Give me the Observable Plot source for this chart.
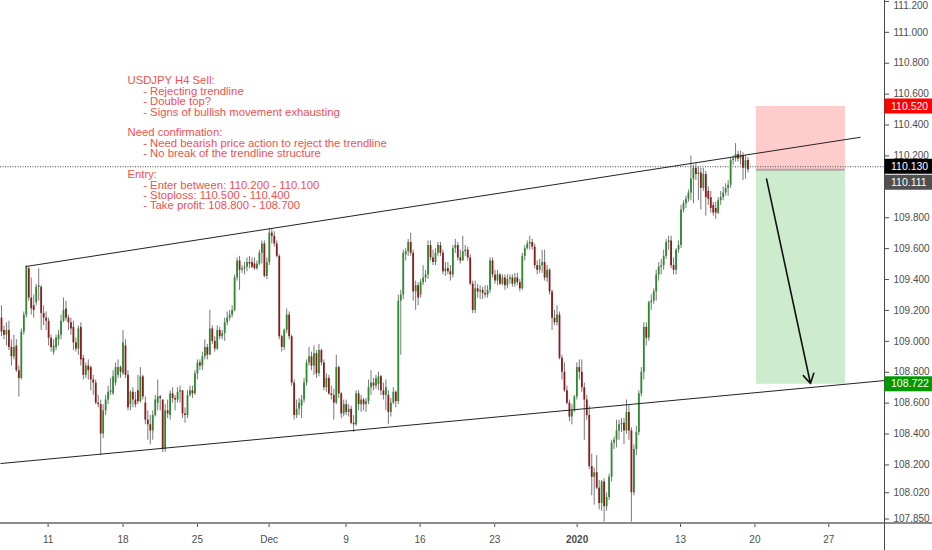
<!DOCTYPE html>
<html><head><meta charset="utf-8">
<script src="https://cdn.jsdelivr.net/npm/d3@7"></script>
<script src="https://cdn.jsdelivr.net/npm/@observablehq/plot@0.6"></script>
<style>
html,body{margin:0;padding:0;background:#fff;}
#chart{width:932px;height:550px;overflow:hidden;}
</style></head><body><div id="chart"></div>
<script>
// USDJPY H4 candles (index = bar number), prices
const open = [
109.15,109.07,109.04,109.07,108.96,108.90,108.97,108.81,108.76,109.06,
109.17,109.47,109.28,109.23,109.25,109.35,109.35,109.18,109.15,109.13,
109.02,108.93,108.96,109.01,109.04,109.13,109.21,109.15,109.12,109.09,
108.99,108.95,109.09,108.89,108.78,108.84,108.83,108.75,108.73,108.60,
108.59,108.40,108.55,108.62,108.67,108.66,108.73,108.78,108.83,108.79,
108.97,108.78,108.59,108.67,108.62,108.68,108.61,108.77,108.60,108.49,
108.46,108.42,108.52,108.60,108.64,108.62,108.30,108.55,108.52,108.66,
108.63,108.62,108.67,108.68,108.53,108.52,108.65,108.68,108.66,108.79,
108.86,108.84,108.90,108.96,108.91,109.08,109.00,108.95,109.07,109.03,
109.05,109.12,109.15,109.17,109.20,109.41,109.52,109.46,109.47,109.48,
109.51,109.51,109.50,109.47,109.50,109.57,109.63,109.42,109.51,109.70,
109.68,109.63,109.55,109.03,108.96,109.07,109.17,109.03,108.73,108.52,
108.56,108.58,108.62,108.73,108.86,108.90,108.84,108.92,108.79,108.94,
108.86,108.70,108.76,108.66,108.65,108.60,108.83,108.66,108.53,108.59,
108.54,108.56,108.47,108.46,108.66,108.59,108.62,108.59,108.61,108.70,
108.73,108.71,108.72,108.77,108.68,108.65,108.65,108.54,108.60,108.67,
108.61,109.26,109.30,109.56,109.58,109.64,109.57,109.32,109.36,109.30,
109.38,109.41,109.43,109.62,109.54,109.51,109.57,109.62,109.57,109.45,
109.47,109.45,109.43,109.60,109.62,109.54,109.52,109.58,109.59,109.54,
109.37,109.20,109.34,109.32,109.33,109.31,109.30,109.33,109.52,109.43,
109.39,109.43,109.37,109.41,109.36,109.40,109.41,109.37,109.41,109.38,
109.34,109.55,109.60,109.63,109.64,109.61,109.49,109.46,109.49,109.51,
109.41,109.46,109.32,109.15,109.12,109.17,108.89,108.80,108.68,108.60,
108.51,108.55,108.64,108.83,108.80,108.70,108.62,108.52,108.19,108.12,
108.15,108.05,107.95,108.09,107.93,107.99,108.12,108.34,108.36,108.42,
108.46,108.47,108.42,108.54,108.42,108.02,108.30,108.41,108.66,108.80,
109.09,109.02,109.25,109.26,109.32,109.43,109.48,109.49,109.55,109.64,
109.65,109.49,109.46,109.59,109.62,109.85,109.89,109.92,109.96,110.05,
110.12,110.08,110.09,109.99,110.08,109.97,109.93,109.88,109.86,109.83,
109.91,109.93,109.96,109.99,110.01,110.17,110.18,110.21,110.18,110.20,
110.12,110.17];
const high = [
109.23,109.10,109.12,109.13,109.01,109.04,109.01,108.84,109.08,109.19,
109.49,109.48,109.41,109.30,109.37,109.47,109.36,109.23,109.19,109.15,
109.04,109.01,109.04,109.07,109.17,109.28,109.26,109.17,109.15,109.13,
109.02,109.10,109.12,108.91,108.86,108.88,108.84,108.78,108.75,108.65,
108.62,108.59,108.65,108.71,108.76,108.81,108.86,108.88,108.84,109.07,
109.01,108.81,108.68,108.70,108.67,108.78,108.83,108.78,108.64,108.55,
108.52,108.55,108.65,108.75,108.65,108.62,108.59,108.62,108.68,108.70,
108.65,108.70,108.71,108.68,108.57,108.68,108.71,108.71,108.81,108.88,
108.88,108.93,109.01,108.98,109.20,109.10,109.03,109.10,109.09,109.07,
109.15,109.19,109.20,109.23,109.43,109.54,109.55,109.49,109.51,109.54,
109.55,109.54,109.54,109.52,109.59,109.65,109.65,109.54,109.73,109.73,
109.71,109.65,109.56,109.04,109.08,109.21,109.19,109.04,108.75,108.62,
108.63,108.65,108.76,108.88,108.96,108.93,108.97,108.94,108.98,108.95,
108.88,108.79,108.78,108.71,108.69,108.91,108.84,108.67,108.62,108.62,
108.59,108.58,108.52,108.68,108.68,108.65,108.63,108.63,108.75,108.81,
108.76,108.78,108.80,108.78,108.73,108.75,108.68,108.63,108.70,108.68,
109.30,109.33,109.59,109.60,109.66,109.70,109.59,109.39,109.38,109.40,
109.49,109.46,109.65,109.65,109.59,109.60,109.64,109.64,109.59,109.51,
109.51,109.49,109.62,109.66,109.64,109.59,109.68,109.62,109.61,109.56,
109.39,109.39,109.37,109.36,109.35,109.36,109.36,109.54,109.54,109.46,
109.46,109.44,109.43,109.43,109.43,109.43,109.43,109.44,109.44,109.40,
109.57,109.62,109.65,109.68,109.66,109.63,109.52,109.53,109.59,109.59,
109.49,109.47,109.33,109.20,109.23,109.19,108.91,108.86,108.71,108.62,
108.59,108.65,108.86,108.88,108.88,108.73,108.65,108.58,108.27,108.18,
108.26,108.10,108.10,108.11,108.02,108.14,108.36,108.38,108.49,108.49,
108.50,108.50,108.62,108.59,108.44,108.33,108.45,108.68,108.83,109.12,
109.12,109.26,109.30,109.34,109.46,109.51,109.53,109.59,109.66,109.68,
109.68,109.54,109.60,109.65,109.88,109.91,109.94,109.98,110.20,110.14,
110.15,110.13,110.12,110.12,110.10,110.00,109.97,109.90,109.90,109.93,
109.97,110.00,110.02,110.04,110.19,110.20,110.28,110.23,110.23,110.22,
110.20,110.19];
const low = [
109.03,109.01,108.97,108.94,108.84,108.88,108.80,108.64,108.75,109.04,
109.15,109.26,109.17,109.15,109.23,109.26,109.07,109.10,109.07,108.97,
108.93,108.91,108.94,108.97,109.01,109.12,109.13,109.07,109.04,108.94,
108.93,108.91,108.84,108.75,108.76,108.75,108.68,108.65,108.59,108.57,
108.26,108.37,108.52,108.59,108.65,108.65,108.71,108.76,108.76,108.78,
108.76,108.55,108.55,108.57,108.57,108.59,108.60,108.62,108.46,108.36,
108.33,108.36,108.51,108.55,108.55,108.28,108.28,108.50,108.49,108.60,
108.55,108.60,108.60,108.50,108.47,108.50,108.64,108.63,108.65,108.75,
108.81,108.81,108.88,108.88,108.91,108.98,108.93,108.94,109.01,109.01,
109.00,109.10,109.13,109.15,109.19,109.39,109.33,109.44,109.43,109.45,
109.47,109.47,109.46,109.46,109.49,109.50,109.41,109.40,109.49,109.63,
109.61,109.54,109.01,108.93,108.94,109.05,109.01,108.71,108.49,108.50,
108.52,108.50,108.60,108.71,108.84,108.81,108.78,108.76,108.77,108.84,
108.68,108.67,108.65,108.62,108.49,108.59,108.63,108.50,108.51,108.52,
108.51,108.46,108.41,108.45,108.55,108.54,108.55,108.54,108.59,108.65,
108.68,108.69,108.68,108.65,108.62,108.55,108.46,108.51,108.59,108.57,
108.59,108.91,109.27,109.52,109.55,109.55,109.26,109.20,109.23,109.28,
109.36,109.38,109.40,109.52,109.49,109.49,109.55,109.55,109.43,109.42,
109.43,109.39,109.41,109.57,109.52,109.50,109.52,109.55,109.52,109.36,
109.18,109.18,109.28,109.27,109.27,109.28,109.28,109.31,109.41,109.37,
109.36,109.36,109.36,109.33,109.34,109.37,109.35,109.35,109.36,109.32,
109.33,109.52,109.59,109.59,109.59,109.47,109.43,109.44,109.44,109.39,
109.38,109.30,109.07,109.10,109.10,108.88,108.75,108.67,108.59,108.48,
108.46,108.54,108.62,108.75,108.67,108.36,108.49,108.17,108.00,107.94,
108.04,107.91,107.90,107.83,107.90,107.97,108.09,108.30,108.31,108.36,
108.41,108.33,108.40,108.36,107.83,108.00,108.26,108.39,108.64,108.75,
108.97,109.00,109.20,109.24,109.26,109.39,109.43,109.46,109.53,109.59,
109.47,109.43,109.43,109.57,109.60,109.83,109.86,109.90,109.91,109.89,
110.04,109.91,109.85,109.97,109.81,109.88,109.83,109.81,109.79,109.82,
109.88,109.91,109.94,109.94,109.99,110.14,110.16,110.16,110.14,110.04,
110.05,110.09];
const close = [
109.06,109.04,109.07,108.96,108.90,108.96,108.81,108.76,109.06,109.17,
109.48,109.28,109.21,109.20,109.35,109.36,109.18,109.15,109.13,109.02,
108.96,108.97,109.02,109.04,109.13,109.20,109.15,109.12,109.08,108.99,
108.95,109.08,108.88,108.78,108.84,108.81,108.75,108.73,108.60,108.59,
108.40,108.55,108.62,108.67,108.68,108.77,108.83,108.83,108.80,108.99,
108.78,108.57,108.67,108.62,108.59,108.61,108.77,108.64,108.49,108.46,
108.42,108.52,108.62,108.64,108.63,108.30,108.55,108.53,108.66,108.63,
108.62,108.67,108.68,108.53,108.52,108.65,108.68,108.66,108.79,108.86,
108.84,108.90,108.96,108.91,109.08,109.00,108.95,109.07,109.03,109.05,
109.12,109.15,109.17,109.20,109.41,109.52,109.46,109.47,109.48,109.51,
109.50,109.48,109.47,109.50,109.57,109.63,109.42,109.51,109.70,109.68,
109.63,109.55,109.03,108.96,109.07,109.17,109.03,108.73,108.52,108.56,
108.60,108.62,108.73,108.86,108.90,108.84,108.92,108.79,108.94,108.86,
108.70,108.76,108.66,108.65,108.60,108.83,108.66,108.53,108.59,108.54,
108.56,108.47,108.46,108.66,108.59,108.62,108.59,108.61,108.70,108.73,
108.71,108.76,108.77,108.68,108.65,108.70,108.54,108.60,108.67,108.61,
109.26,109.30,109.57,109.58,109.64,109.57,109.32,109.36,109.28,109.38,
109.41,109.43,109.62,109.54,109.51,109.57,109.62,109.57,109.45,109.47,
109.45,109.43,109.60,109.62,109.54,109.52,109.58,109.59,109.54,109.37,
109.20,109.34,109.32,109.33,109.31,109.30,109.33,109.52,109.43,109.39,
109.43,109.37,109.41,109.36,109.40,109.41,109.37,109.41,109.38,109.34,
109.55,109.60,109.63,109.64,109.61,109.49,109.46,109.49,109.51,109.41,
109.46,109.32,109.15,109.12,109.17,108.89,108.80,108.68,108.60,108.51,
108.55,108.64,108.83,108.80,108.70,108.62,108.52,108.19,108.12,108.15,
108.05,107.95,108.09,107.93,107.99,108.12,108.34,108.36,108.42,108.46,
108.47,108.42,108.54,108.42,108.02,108.30,108.41,108.66,108.80,109.09,
109.02,109.25,109.26,109.32,109.43,109.48,109.49,109.55,109.64,109.65,
109.49,109.46,109.59,109.62,109.85,109.89,109.92,109.96,110.05,110.12,
110.08,110.09,109.99,110.08,109.93,109.92,109.86,109.83,109.83,109.91,
109.93,109.96,109.99,110.01,110.17,110.18,110.21,110.18,110.20,110.12,
110.17,110.11];

// time axis: bar index where each date label sits
const xTickIndex = [18.8, 49.0, 79.0, 107.9, 138.9, 168.8, 198.9, 232.1, 273.8, 303.8, 333.6];
const xTickLabels = ["11", "18", "25", "Dec", "9", "16", "23", "2020", "13", "20", "27"];
const boldLabels = ["2020"];

// price axis (110.000 sits under the price tags in the reference)
const yTicks = [111.2, 111.0, 110.8, 110.6, 110.4, 110.2, 109.8, 109.6, 109.4, 109.2, 109.0, 108.8, 108.6, 108.4, 108.2, 108.02, 107.85];
const priceDomain = [107.821, 111.206];
const indexDomain = [-0.4, 356.05];

// drawings
const trendStartIndex = [9.7, -0.4];
const trendStartPrice = [109.484, 108.209];
const trendEndIndex = [346.4, 356.0];
const trendEndPrice = [110.321, 108.746];

const positionStartIndex = 304.4;
const positionEndIndex = 340.3;
const stopLevel = 110.52;
const entryLevel = 110.111;
const targetLevel = 108.722;
const lastLine = 110.13;

const arrowFromIndex = 308.5, arrowFromPrice = 110.05;
const arrowToIndex = 326.2, arrowToPrice = 108.727;

const noteLines = [
  "USDJPY H4 Sell:",
  "- Rejecting trendline",
  "- Double top?",
  "- Signs of bullish movement exhausting",
  "",
  "Need confirmation:",
  "- Need bearish price action to reject the trendline",
  "- No break of the trendline structure",
  "",
  "Entry:",
  "- Enter between: 110.200 - 110.100",
  "- Stoploss: 110.500 - 110.400",
  "- Take profit: 108.800 - 108.700"
];

const priceTags = [
  {price: stopLevel, bg: "#ff0000"},
  {price: lastLine, bg: "#000000"},
  {price: entryLevel, bg: "#505050"},
  {price: targetLevel, bg: "#009900"}
];

// ---------- build ----------
const GREEN = "#2e8a30", RED = "#8c1c1c", WICK = "#787878";
const candles = open.map((o, i) => {
  const c = close[i];
  return {i, o, c, h: Math.max(high[i], o, c), l: Math.min(low[i], o, c), col: c >= o ? GREEN : RED};
});
const trends = trendStartIndex.map((v, k) => ({x1: v, y1: trendStartPrice[k], x2: trendEndIndex[k], y2: trendEndPrice[k]}));
const tickLabelOf = new Map(xTickIndex.map((v, k) => [v, xTickLabels[k]]));
const fmt = d3.format(".3f");
const FONT = "'Liberation Sans', Arial, sans-serif";

// the note is one multi-line text; bullet lines are indented with no-break spaces
const NOTE_SIZE = 11.3, NOTE_STEP = 10.42;
const noteText = noteLines.map(t => t.startsWith("-") ? "\u00a0".repeat(5) + t : t).join("\n");

const plot = Plot.plot({
  width: 932, height: 550,
  marginLeft: 0, marginRight: 48, marginTop: 0, marginBottom: 27,
  style: {background: "#fff", fontFamily: FONT, overflow: "hidden"},
  x: {type: "linear", domain: indexDomain, label: null},
  y: {type: "linear", domain: priceDomain, label: null},
  marks: [
    Plot.rect([{}], {x1: positionStartIndex, x2: positionEndIndex, y1: entryLevel, y2: stopLevel, fill: "#ffcccc"}),
    Plot.rect([{}], {x1: positionStartIndex, x2: positionEndIndex, y1: targetLevel, y2: entryLevel, fill: "#cdeccd"}),
    Plot.ruleY([entryLevel], {x1: positionStartIndex, x2: positionEndIndex, stroke: "#a8a8a8", strokeWidth: 2}),
    Plot.ruleY([lastLine], {stroke: "#444", strokeWidth: 1, strokeDasharray: "1,1.5"}),
    Plot.ruleX(candles, {x: "i", y1: "l", y2: "h", stroke: WICK, strokeWidth: 1}),
    Plot.ruleX(candles, {x: "i", y1: "o", y2: "c", stroke: "col", strokeWidth: 1.8}),
    Plot.link(trends, {x1: "x1", y1: "y1", x2: "x2", y2: "y2", stroke: "#222", strokeWidth: 1}),
    Plot.arrow([{}], {x1: arrowFromIndex, y1: arrowFromPrice, x2: arrowToIndex, y2: arrowToPrice, stroke: "#111", strokeWidth: 1.6, headLength: 10, insetStart: 0, insetEnd: 0}),
    Plot.text([noteText], {
      text: d => d, frameAnchor: "top-left", textAnchor: "start", lineAnchor: "top",
      lineHeight: NOTE_STEP / NOTE_SIZE, dx: 127, dy: 76.5,
      fill: "#f05050", fontSize: NOTE_SIZE, fontFamily: FONT
    }),
    Plot.axisY(yTicks, {anchor: "right", tickFormat: fmt, tickSize: 4, tickPadding: 5, fontSize: 10, color: "#4d4d4d", label: null}),
    Plot.axisX(xTickIndex, {anchor: "bottom", tickFormat: d => tickLabelOf.get(d), tickSize: 4, tickPadding: 8, fontSize: 10, color: "#4d4d4d", label: null})
  ]
});
document.getElementById("chart").appendChild(plot);

// ---------- decorations drawn from the scales ----------
const svg = d3.select(plot);
const Y = plot.scale("y");
const yBottom = Y.apply(priceDomain[0]);
svg.append("line").attr("x1", 0).attr("x2", 932).attr("y1", yBottom).attr("y2", yBottom)
  .attr("stroke", "#8c8c8c").attr("stroke-width", 2);
svg.append("line").attr("x1", 884.5).attr("x2", 884.5).attr("y1", 0).attr("y2", 550)
  .attr("stroke", "#4a4a4a").attr("stroke-width", 1);

svg.selectAll("text").filter(function () { return boldLabels.includes(this.textContent); })
  .attr("font-weight", "bold");
// keep the top price label inside the picture
svg.selectAll("g[aria-label='y-axis tick label'] text").each(function () {
  const t = d3.select(this).attr("transform") || "";
  const m = /translate\(([-\d.]+),([-\d.]+)\)/.exec(t);
  if (m && +m[2] < 5) d3.select(this).attr("transform", `translate(${m[1]},5)`);
});

let prevY = -Infinity;
const tagG = svg.append("g").attr("text-anchor", "start");
for (const t of priceTags) {
  let cy = Y.apply(t.price);
  if (cy - prevY < 16) cy = prevY + 16;
  prevY = cy;
  tagG.append("rect").attr("x", 884.5).attr("y", cy - 7.5).attr("width", 48).attr("height", 15).attr("fill", t.bg);
  tagG.append("text").attr("x", 891).attr("y", cy).attr("dy", "0.35em").attr("fill", "#fff")
    .attr("text-anchor", "start").attr("font-size", 10.5).attr("font-family", FONT).text(fmt(t.price));
}
</script>
</body></html>
